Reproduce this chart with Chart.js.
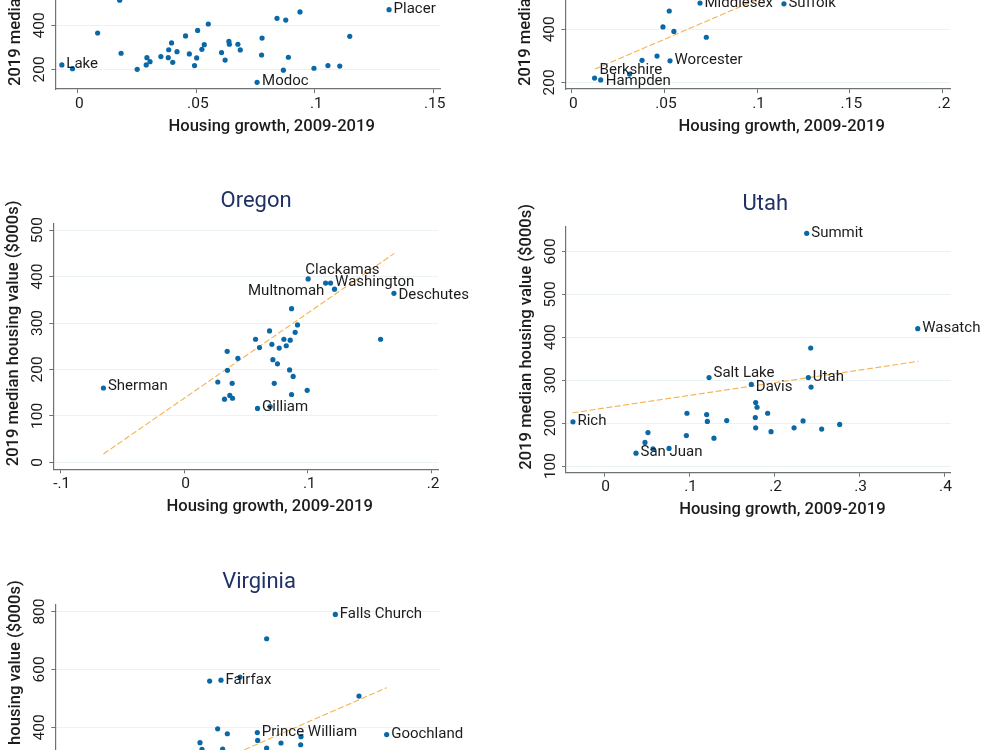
<!DOCTYPE html>
<html>
<head>
<meta charset="utf-8">
<title>Housing growth and median housing value</title>
<script src="https://cdn.jsdelivr.net/npm/chart.js@4"></script>
<style>
    html, body { margin: 0; padding: 0; background: #fff; }
    body { width: 1000px; height: 750px; overflow: hidden; position: relative; }
    canvas { position: absolute; }
</style>
</head>
<body>
<canvas id="chartCa"></canvas>
<canvas id="chartMa"></canvas>
<canvas id="chartOr"></canvas>
<canvas id="chartUt"></canvas>
<canvas id="chartVa"></canvas>
<script>
// Labelled counties come first in each x/y list, in the same order as the names list

// Top left panel (its title is above the picture)
const caNames = ['Lake', 'Modoc', 'Placer'];
const caX = [-0.0068, 0.0756, 0.1313, -0.0023, 0.0083, 0.0176, 0.0182, 0.0250, 0.0291, 0.0288, 0.0304, 0.0350, 0.0381, 0.0383, 0.0395, 0.0400, 0.0418, 0.0454, 0.0470, 0.0492, 0.0501, 0.0505, 0.0523, 0.0533, 0.0550, 0.0606, 0.0621, 0.0637, 0.0639, 0.0675, 0.0685, 0.0775, 0.0777, 0.0840, 0.0867, 0.0877, 0.0888, 0.0937, 0.0996, 0.1055, 0.1105, 0.1147];
const caY = [220, 141, 471, 203, 365, 514, 273, 200, 253, 220, 235, 258, 253, 289, 320, 232, 280, 352, 270, 217, 252, 377, 291, 312, 406, 276, 242, 327, 314, 314, 288, 265, 342, 432, 196, 424, 255, 461, 205, 217, 215, 350];
const caXTicks = [0, 0.05, 0.1, 0.15];
const caYTicks = [200, 400, 600, 800];

// Top right panel (its title is above the picture)
const maNames = ['Berkshire', 'Hampden', 'Worcester', 'Middlesex', 'Suffolk'];
const maX = [0.0122, 0.0155, 0.0529, 0.0691, 0.1144, 0.0311, 0.0378, 0.0459, 0.0491, 0.0525, 0.0550, 0.0725];
const maY = [216, 209, 281, 499, 496, 231, 283, 299, 409, 469, 392, 370];
const maFitX = [0.0124, 0.1014];
const maFitY = [250, 517];
const maXTicks = [0, 0.05, 0.1, 0.15, 0.2];
const maYTicks = [200, 400, 600, 800];

// Oregon
const orNames = ['Sherman', 'Gilliam', 'Clackamas', 'Washington', 'Multnomah', 'Deschutes'];
const orX = [-0.0652, 0.0593, 0.1002, 0.1183, 0.1215, 0.1695, 0.0272, 0.0326, 0.0369, 0.0391, 0.0388, 0.0350, 0.0348, 0.0434, 0.0577, 0.0609, 0.0690, 0.0709, 0.0717, 0.0754, 0.0728, 0.0695, 0.0768, 0.0806, 0.0825, 0.0857, 0.0852, 0.0881, 0.0868, 0.0868, 0.0897, 0.0916, 0.0994, 0.1143, 0.1587];
const orY = [160, 116, 395, 386, 373, 364, 173, 136, 144, 138, 170, 198, 239, 224, 265, 247, 283, 254, 221, 212, 170, 120, 246, 265, 251, 263, 199, 185, 146, 331, 280, 296, 155, 386, 265];
const orFitX = [-0.0652, 0.1698];
const orFitY = [18, 450];
const orXTicks = [-0.1, 0, 0.1, 0.2];
const orYTicks = [0, 100, 200, 300, 400, 500];

// Utah
const utNames = ['Rich', 'San Juan', 'Salt Lake', 'Davis', 'Summit', 'Utah', 'Wasatch'];
const utX = [-0.0369, 0.0373, 0.1233, 0.1731, 0.2383, 0.2402, 0.3690, 0.0479, 0.0514, 0.0573, 0.0762, 0.0966, 0.0973, 0.1205, 0.1213, 0.1291, 0.1441, 0.1778, 0.1782, 0.1782, 0.1798, 0.1923, 0.1963, 0.2234, 0.2340, 0.2430, 0.2434, 0.2559, 0.2771];
const utY = [203, 130, 306, 290, 642, 306, 420, 155, 178, 140, 141, 171, 223, 220, 204, 165, 206, 213, 189, 248, 237, 223, 180, 189, 205, 375, 284, 186, 197];
const utFitX = [-0.0373, 0.3698];
const utFitY = [224, 344];
const utXTicks = [0, 0.1, 0.2, 0.3, 0.4];
const utYTicks = [100, 200, 300, 400, 500, 600];

// Virginia (its x axis is below the picture)
const vaNames = ['Falls Church', 'Fairfax', 'Prince William', 'Goochland'];
const vaX = [0.1512, 0.0826, 0.1044, 0.1820, 0.1100, 0.0758, 0.0940, 0.1654, 0.0806, 0.0864, 0.1306, 0.1046, 0.0700, 0.1186, 0.1304, 0.0712, 0.0836, 0.1100];
const vaY = [790, 563, 382, 375, 706, 560, 574, 508, 395, 378, 368, 355, 347, 346, 340, 324, 325, 328];
const vaFitX = [0.0780, 0.1820];
const vaFitY = [276, 537];
const vaXTicks = [0, 0.05, 0.1, 0.15, 0.2];
const vaYTicks = [0, 200, 400, 600, 800];

const xAxisLabel = 'Housing growth, 2009-2019';
const yAxisLabel = '2019 median housing value ($000s)';

const dotColor = '#0a68a6';
const fitColor = '#f6b24f';
const gridColor = '#eaf2f3';
const axisColor = '#6e7272';
const textColor = '#1c1c1c';
const titleColor = '#1f3263';

Chart.defaults.font.family = 'Roboto';
Chart.defaults.animation = false;

// Axis titles, panel title and county labels are placed by hand: Chart.js would centre them on the plot
const panelText = {
    id: 'panelText',
    afterDraw(chart, args, opts) {
        const ctx = chart.ctx;
        const area = chart.chartArea;
        const meta = chart.getDatasetMeta(0);
        ctx.save();
        ctx.textBaseline = 'middle';
        ctx.fillStyle = textColor;

        ctx.font = '15px Roboto';
        ctx.textAlign = 'left';
        opts.names.forEach((name, i) => {
            const shift = opts.offsets[name] || [4.5, -0.2];
            ctx.fillText(name, meta.data[i].x + shift[0], meta.data[i].y + shift[1]);
        });

        ctx.font = '500 16.6px Roboto';
        ctx.textAlign = 'center';
        ctx.fillText(xAxisLabel, (area.left + area.right) / 2 + 24, area.bottom + 37.5);

        ctx.save();
        ctx.translate(area.left - 39.5, area.bottom - 3);
        ctx.rotate(-Math.PI / 2);
        ctx.textAlign = 'left';
        ctx.fillText(yAxisLabel, 0, 0);
        ctx.restore();

        if (opts.title) {
            ctx.font = '22px Roboto';
            ctx.fillStyle = titleColor;
            ctx.textAlign = 'center';
            ctx.fillText(opts.title, (area.left + area.right) / 2 + opts.titleShift, area.top - 22);
        }
        ctx.restore();
    }
};

function tickText(value) {
    return String(value).replace('0.', '.');
}

function makePanel(p) {
    const canvas = document.getElementById(p.id);
    canvas.style.left = p.box[0] + 'px';
    canvas.style.top = p.box[1] + 'px';
    canvas.width = p.box[2];
    canvas.height = p.box[3];

    const datasets = [{
        data: p.x.map((v, i) => ({ x: v, y: p.y[i] })),
        backgroundColor: dotColor,
        borderWidth: 0,
        pointRadius: 2.6,
        order: 1
    }];
    if (p.fitX) {
        datasets.push({
            data: p.fitX.map((v, i) => ({ x: v, y: p.fitY[i] })),
            showLine: true,
            borderColor: fitColor,
            borderWidth: 1.1,
            borderDash: [6, 2.5],
            pointRadius: 0,
            order: 2
        });
    }

    new Chart(canvas, {
        type: 'scatter',
        data: { datasets: datasets },
        options: {
            responsive: false,
            layout: {
                padding: {
                    left: 0,
                    top: p.plot[1] - p.box[1],
                    right: p.box[0] + p.box[2] - p.plot[2],
                    bottom: 0
                }
            },
            plugins: {
                legend: { display: false },
                tooltip: { enabled: false },
                panelText: { names: p.names, offsets: p.offsets || {}, title: p.title, titleShift: p.titleShift }
            },
            scales: {
                x: {
                    type: 'linear',
                    min: p.xRange[0],
                    max: p.xRange[1],
                    afterBuildTicks: scale => { scale.ticks = p.xTicks.map(v => ({ value: v })); },
                    afterFit: scale => { scale.height = p.box[1] + p.box[3] - p.plot[3]; },
                    grid: { drawOnChartArea: false, tickLength: 4, tickColor: axisColor },
                    border: { color: axisColor, width: 1.2 },
                    ticks: {
                        autoSkip: false,
                        maxRotation: 0,
                        padding: 1.5,
                        labelOffset: 1.4,
                        color: textColor,
                        font: { size: 15.5 },
                        callback: tickText
                    }
                },
                y: {
                    type: 'linear',
                    min: p.yRange[0],
                    max: p.yRange[1],
                    afterBuildTicks: scale => { scale.ticks = p.yTicks.map(v => ({ value: v })); },
                    afterFit: scale => { scale.width = p.plot[0] - p.box[0]; },
                    grid: { color: gridColor, lineWidth: 1, tickLength: 4, tickColor: axisColor },
                    border: { color: axisColor, width: 1.2 },
                    ticks: {
                        minRotation: 90,
                        crossAlign: 'center',
                        padding: -2,
                        color: textColor,
                        font: { size: 15.5 }
                    }
                }
            }
        },
        plugins: [panelText]
    });
}

// box = canvas left, top, width, height; plot = plot area left, top, right, bottom on the page
makePanel({
    id: 'chartCa', box: [0, -190, 495, 340], plot: [55.3, -156, 440, 89],
    x: caX, y: caY, names: caNames, xTicks: caXTicks, yTicks: caYTicks,
    xRange: [-0.00957, 0.1528], yRange: [110.6, 1224],
    offsets: { Modoc: [5, -1.2] }
});
makePanel({
    id: 'chartMa', box: [500, -190, 500, 340], plot: [565.3, -156, 950, 89],
    x: maX, y: maY, fitX: maFitX, fitY: maFitY, names: maNames, xTicks: maXTicks, yTicks: maYTicks,
    xRange: [-0.0036, 0.2040], yRange: [174.8, 1099],
    offsets: { Berkshire: [5, -7.5], Hampden: [5, 1.2] }
});
makePanel({
    id: 'chartOr', box: [0, 190, 495, 340], plot: [53.3, 223.3, 438, 469.3],
    x: orX, y: orY, fitX: orFitX, fitY: orFitY, names: orNames, xTicks: orXTicks, yTicks: orYTicks,
    xRange: [-0.1057, 0.2051], yRange: [-15.1, 514.8], title: 'Oregon', titleShift: 10.4,
    offsets: { Sherman: [4.5, -1.4], Gilliam: [4.5, -1], Clackamas: [-2.8, -8.7], Washington: [4.5, -0.4], Multnomah: [-86.5, 1.8], Deschutes: [4.5, 1.8] }
});
makePanel({
    id: 'chartUt', box: [500, 190, 500, 340], plot: [566, 226.7, 950.7, 472.7],
    x: utX, y: utY, fitX: utFitX, fitY: utFitY, names: utNames, xTicks: utXTicks, yTicks: utYTicks,
    xRange: [-0.0451, 0.4078], yRange: [84.5, 657.5], title: 'Utah', titleShift: 7,
    offsets: { 'San Juan': [4.5, -1], 'Salt Lake': [4.5, -4.2], Davis: [4.5, 2.6] }
});
makePanel({
    id: 'chartVa', box: [0, 570, 495, 340], plot: [55.3, 604.3, 440, 849],
    x: vaX, y: vaY, fitX: vaFitX, fitY: vaFitY, names: vaNames, xTicks: vaXTicks, yTicks: vaYTicks,
    xRange: [-0.0168, 0.214], yRange: [-20, 825], title: 'Virginia', titleShift: 11.4
});
</script>
</body>
</html>
